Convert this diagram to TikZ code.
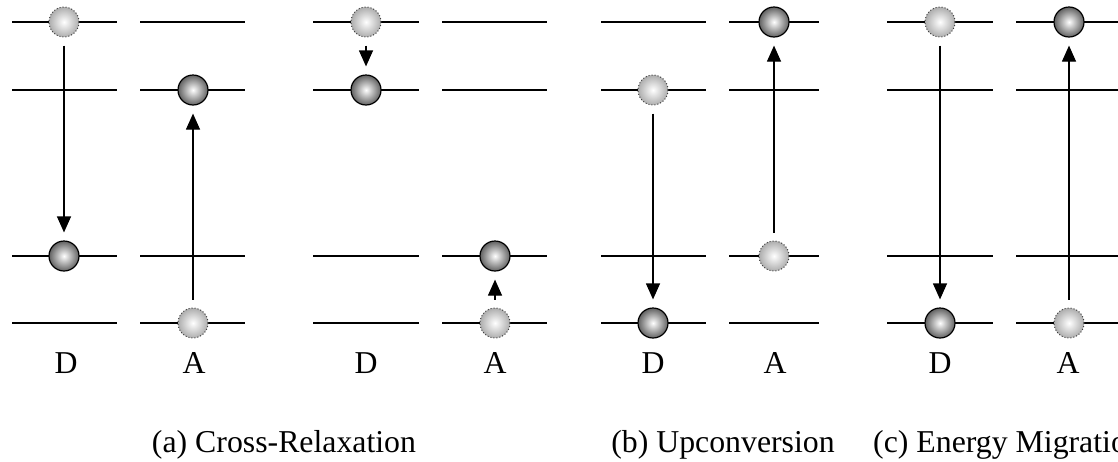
\documentclass[tikz,border=0pt]{standalone}
\usepackage{fontspec}
\setmainfont{Liberation Serif}
\usetikzlibrary{arrows.meta}
\begin{document}
\begin{tikzpicture}[x=1pt,y=-1pt,
 level/.style={line width=2.6pt},
 exc/.style={circle, minimum size=30pt, inner sep=0pt, draw=black, line width=1.2pt, inner color=white, outer color=black!62},
 gnd/.style={circle, minimum size=30pt, inner sep=0pt, draw=black!75, dotted, line width=1pt, inner color=white, outer color=black!32},
 trans/.style={line width=1.2pt, -{Triangle[length=16pt,width=14pt]}, shorten <=8pt, shorten >=8pt},
 lab/.style={font=\fontsize{31.8}{38}\selectfont, anchor=base, inner sep=0pt}]
\useasboundingbox (0,0) rectangle (1118,461);
% level lines
\foreach \y in {22,90,256,323}{
  \draw[level] (12,\y) -- (117,\y);
  \draw[level] (140,\y) -- (245,\y);
  \draw[level] (313,\y) -- (419,\y);
  \draw[level] (442,\y) -- (547,\y);
  \draw[level] (601,\y) -- (706,\y);
  \draw[level] (729,\y) -- (819,\y);
  \draw[level] (887,\y) -- (993,\y);
  \draw[level] (1016,\y) -- (1122,\y);
}
% panel a
\node[gnd] (aD1) at (64,22) {};
\node[exc] (aD3) at (64,256) {};
\node[exc] (aA2) at (193,90) {};
\node[gnd] (aA4) at (193,323) {};
\draw[trans] (aD1) -- (aD3);
\draw[trans] (aA4) -- (aA2);
\node[gnd] (a2D1) at (366,22) {};
\node[exc] (a2D2) at (366,90) {};
\node[exc] (a2A3) at (495,256) {};
\node[gnd] (a2A4) at (495,323) {};
\draw[trans] (a2D1) -- (a2D2);
\draw[trans] (a2A4) -- (a2A3);
% panel b
\node[gnd] (bD2) at (653,90) {};
\node[exc] (bD4) at (653,323) {};
\node[exc] (bA1) at (774,22) {};
\node[gnd] (bA3) at (774,256) {};
\draw[trans] (bD2) -- (bD4);
\draw[trans] (bA3) -- (bA1);
% panel c
\node[gnd] (cD1) at (940,22) {};
\node[exc] (cD4) at (940,323) {};
\node[exc] (cA1) at (1069,22) {};
\node[gnd] (cA4) at (1069,323) {};
\draw[trans] (cD1) -- (cD4);
\draw[trans] (cA4) -- (cA1);
% labels
\node[lab] (l1) at (66,373) {D};
\node[lab] (l2) at (194,373) {A};
\node[lab] (l3) at (366,373) {D};
\node[lab] (l4) at (495,373) {A};
\node[lab] (l5) at (653,373) {D};
\node[lab] (l6) at (775,373) {A};
\node[lab] (l7) at (940,373) {D};
\node[lab] (l8) at (1068,373) {A};
\node[lab] (ca) at (284,452) {(a) Cross-Relaxation};
\node[lab] (cb) at (723,452) {(b) Upconversion};
\node[lab, anchor=base west] (cc) at (873,452) {(c) Energy Migration};
\end{tikzpicture}
\end{document}
